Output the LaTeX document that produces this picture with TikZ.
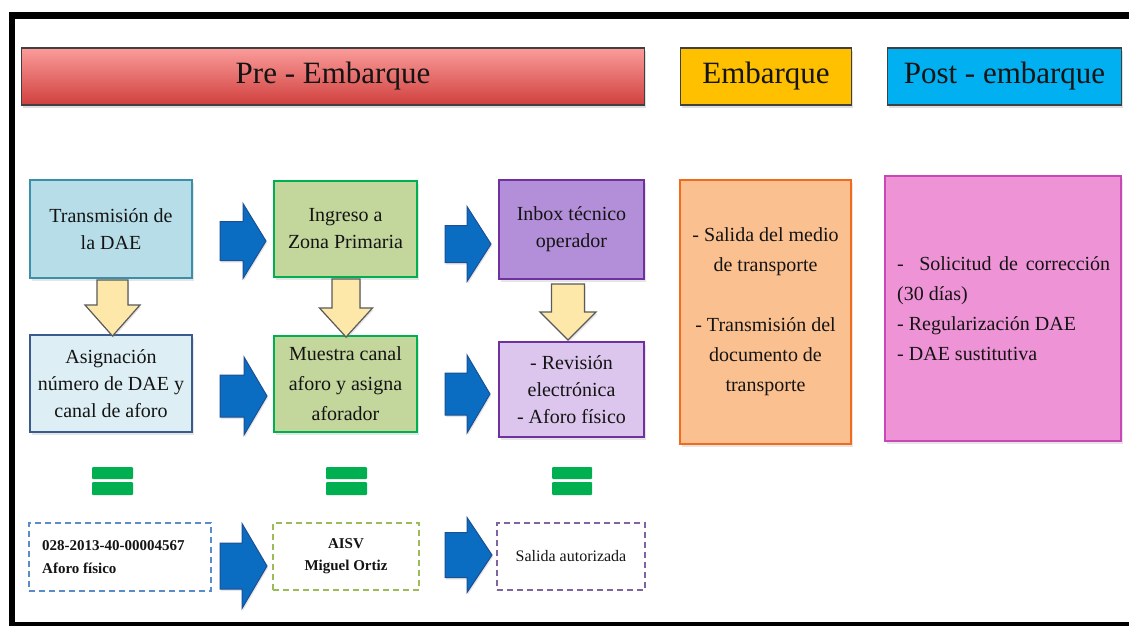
\documentclass[tikz,border=0pt]{standalone}
\usepackage{fontspec}
\setmainfont{Liberation Serif}
\usetikzlibrary{shadows}
\definecolor{preTop}{HTML}{FA9C9A}
\definecolor{preBot}{HTML}{D0403E}
\definecolor{emHdr}{HTML}{FFC000}
\definecolor{poHdr}{HTML}{00B0F0}
\definecolor{trFill}{HTML}{B7DEE8}
\definecolor{trLine}{HTML}{3B8FA8}
\definecolor{asFill}{HTML}{DDEFF5}
\definecolor{asLine}{HTML}{3A5C8C}
\definecolor{grFill}{HTML}{C3D69B}
\definecolor{grLine}{HTML}{00B050}
\definecolor{puFill}{HTML}{B48FD9}
\definecolor{puLine}{HTML}{7030A0}
\definecolor{pu2Fill}{HTML}{DDC6EE}
\definecolor{emFill}{HTML}{FAC08F}
\definecolor{emLine}{HTML}{F26B1D}
\definecolor{poFill}{HTML}{EE93D5}
\definecolor{poLine}{HTML}{C848B8}
\definecolor{yeFill}{HTML}{FDE8AA}
\definecolor{yeLine}{HTML}{5A5A5A}
\definecolor{blFill}{HTML}{0A6DC2}
\definecolor{blLine}{HTML}{1C4F94}
\definecolor{eqGreen}{HTML}{00B050}
\definecolor{dsBlue}{HTML}{5B8BC9}
\definecolor{dsGreen}{HTML}{9BBB59}
\definecolor{dsPurple}{HTML}{8064A2}
\definecolor{txt}{HTML}{141414}
\newcommand{\rarrow}[6]{%
  \draw[bluearr] (#1,{#2-#3}) -- ({#1+#5},{#2-#3}) -- ({#1+#5},{#2-#4}) -- ({#1+#6},#2) -- ({#1+#5},{#2+#4}) -- ({#1+#5},{#2+#3}) -- (#1,{#2+#3}) -- cycle;}
\newcommand{\darrow}[6]{%
  \draw[yellowarr] ({#1-#3},#2) -- ({#1+#3},#2) -- ({#1+#3},#5) -- ({#1+#4},#5) -- (#1,#6) -- ({#1-#4},#5) -- ({#1-#3},#5) -- cycle;}
\newcommand{\eqsign}[2]{%
  \fill[eqGreen,rounded corners=1pt] (#1,467) rectangle ({#1+#2},479);
  \fill[eqGreen,rounded corners=1pt] (#1,482) rectangle ({#1+#2},495);}
\begin{document}
\begin{tikzpicture}[x=1pt,y=-1pt,
  hdr/.style={draw=black!75, line width=1.2pt, inner sep=0pt, text=txt,
    font=\fontsize{31}{36}\selectfont, minimum height=57,
    drop shadow={opacity=0.25, shadow xshift=1pt, shadow yshift=-3pt}},
  rbox/.style={draw, line width=2pt, inner sep=0pt, align=center, text=txt,
    font=\fontsize{20}{27}\selectfont,
    drop shadow={opacity=0.2, shadow xshift=2pt, shadow yshift=-3pt}},
  bigbox/.style={rbox, font=\fontsize{20}{30}\selectfont},
  dbox/.style={draw, line width=2pt, dash pattern=on 6pt off 4pt, inner sep=0pt,
    align=center, text=txt, fill=white},
  bluearr/.style={fill=blFill, draw=blLine, line width=1pt, line join=miter,
    drop shadow={opacity=0.2, shadow xshift=1pt, shadow yshift=-2pt}},
  yellowarr/.style={fill=yeFill, draw=yeLine, line width=1.2pt, line join=miter,
    drop shadow={opacity=0.2, shadow xshift=1pt, shadow yshift=-2pt}}]
\useasboundingbox (0,0) rectangle (1129,626);
\fill[white] (0,0) rectangle (1129,626);
% frame
\draw[line width=6.5pt] (1140,625.5) -- (12,625.5) -- (12,15.5) -- (1140,15.5);
% headers
\node[hdr, top color=preTop, bottom color=preBot, minimum width=623] (pre) at (333,76.5) {Pre - Embarque};
\node[hdr, fill=emHdr, minimum width=171] (emb) at (766,76.5) {Embarque};
\node[hdr, fill=poHdr, minimum width=234] (post) at (1004.5,76.5) {Post - embarque};
% row boxes
\node[rbox, fill=trFill, draw=trLine, minimum width=162, minimum height=98] (tr) at (111,229) {Transmisión de\\la DAE};
\node[rbox, fill=asFill, draw=asLine, minimum width=162, minimum height=97] (as) at (111,383.5) {Asignación\\número de DAE y\\canal de aforo};
\node[rbox, fill=grFill, draw=grLine, minimum width=143, minimum height=96] (in) at (345.5,229) {Ingreso a\\Zona Primaria};
\node[rbox, fill=grFill, draw=grLine, minimum width=143, minimum height=96, font=\fontsize{20}{30}\selectfont] (mu) at (345.5,384) {Muestra canal\\aforo y asigna\\aforador};
\node[rbox, fill=puFill, draw=puLine, minimum width=145, minimum height=99] (ib) at (571.5,229.5) {Inbox técnico\\operador};
\node[rbox, fill=pu2Fill, draw=puLine, minimum width=145, minimum height=95] (rv) at (571.5,389.5) {- Revisión\\electrónica\\- Aforo físico};
\node[bigbox, fill=emFill, draw=emLine, minimum width=171, minimum height=264] (eb) at (765.5,312) {- Salida del medio\\de transporte\\[30pt]- Transmisión del\\documento de\\transporte};
\node[bigbox, fill=poFill, draw=poLine, minimum width=236, minimum height=265] (pb) at (1003,308.5) {};
\node[anchor=west, align=left, inner sep=0pt, text=txt, font=\fontsize{20}{30}\selectfont] (pbt) at (897,309) {\makebox[213pt][s]{- \ Solicitud de corrección}\\(30 días)\\- Regularización DAE\\- DAE sustitutiva};
% blue arrows
\rarrow{220}{241}{19.5}{37.5}{23}{46}
\rarrow{445}{244}{18.5}{37.5}{22}{46}
\rarrow{220}{396}{21}{39}{24}{47}
\rarrow{445}{394}{21}{39}{22}{45}
\rarrow{220}{566}{23}{42.5}{22}{47}
\rarrow{445}{555}{22.5}{37.5}{22}{47}
% yellow arrows
\darrow{112.5}{280}{15.5}{27.5}{305}{336}
\darrow{346}{279}{14}{26.5}{308}{337}
\darrow{568}{284}{16.5}{28}{312}{340}
% equals
\eqsign{92}{41}
\eqsign{326}{41}
\eqsign{552}{40}
% dashed boxes
\node[dbox, draw=dsBlue, minimum width=182, minimum height=68] (d1) at (120,557) {};
\node[anchor=west, align=left, inner sep=0pt, text=txt, font=\bfseries\fontsize{15}{23}\selectfont] (d1t) at (42,557) {028-2013-40-00004567\\Aforo físico};
\node[dbox, draw=dsGreen, minimum width=146, minimum height=67, font=\bfseries\fontsize{15}{22}\selectfont] (d2) at (346,556.5) {AISV\\Miguel Ortiz};
\node[dbox, draw=dsPurple, minimum width=148, minimum height=67, font=\fontsize{16}{20}\selectfont] (d3) at (571,556.5) {Salida autorizada};
\end{tikzpicture}
\end{document}
